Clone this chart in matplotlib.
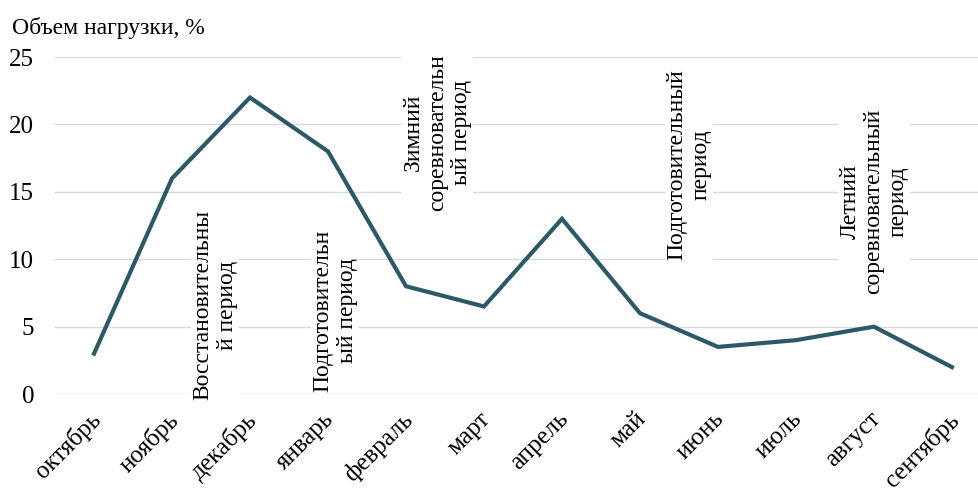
import matplotlib
matplotlib.use('Agg')
import matplotlib.pyplot as plt
from matplotlib.transforms import ScaledTranslation

plt.rcParams['font.family'] = ['Liberation Serif', 'DejaVu Serif']

months = ['октябрь', 'ноябрь', 'декабрь', 'январь', 'февраль', 'март',
          'апрель', 'май', 'июнь', 'июль', 'август', 'сентябрь']
load = [3, 16, 22, 18, 8, 6.5, 13, 6, 3.5, 4, 5, 2]
yticks = [0, 5, 10, 15, 20, 25]

# period captions: text, x (category position), y (value)
periods = [
    ('Восстановительны\nй период', 1.55, 6.6),
    ('Подготовительн\nый период', 3.09, 6.2),
    ('Зимний\nсоревновательн\nый период', 4.40, 19.4),
    ('Подготовительный\nпериод', 7.63, 17.0),
    ('Летний\nсоревновательный\nпериод', 10.0, 14.3),
]

fig = plt.figure(figsize=(9.79, 4.92), dpi=100)
# plot area runs a little past the right edge of the figure
ax = fig.add_axes([0.0562, 0.199, 0.956, 0.685])

x = list(range(len(months)))
ax.plot(x, load, color='#2b5a66', linewidth=3, zorder=3,
        solid_joinstyle='miter')

ax.set_xlim(-0.5, len(months) - 0.5)
ax.set_ylim(0, 25)
ax.set_yticks(yticks)
ax.set_xticks(x)
ax.yaxis.grid(True, color='#d9d9d9', linewidth=1)
ax.set_axisbelow(True)
for s in ax.spines.values():
    s.set_visible(False)
ax.tick_params(axis='y', length=0, pad=15, labelsize=18)
ax.tick_params(axis='x', length=0, pad=10, labelsize=18)
ax.set_xticklabels(months, rotation=45, ha='right', va='top',
                   rotation_mode='anchor')
# nudge the slanted month names a bit to the left
shift = ScaledTranslation(-0.05, 0, fig.dpi_scale_trans)
for lbl in ax.get_xticklabels():
    lbl.set_transform(lbl.get_transform() + shift)

for txt, px, py in periods:
    ax.text(px, py, txt, rotation=90, ha='center', va='center',
            multialignment='center', fontsize=17, zorder=4,
            bbox=dict(facecolor='white', edgecolor='none', pad=1))

fig.text(0.012, 0.943, 'Объем нагрузки, %', fontsize=17, va='center')

fig.savefig('out.png', dpi=100)
